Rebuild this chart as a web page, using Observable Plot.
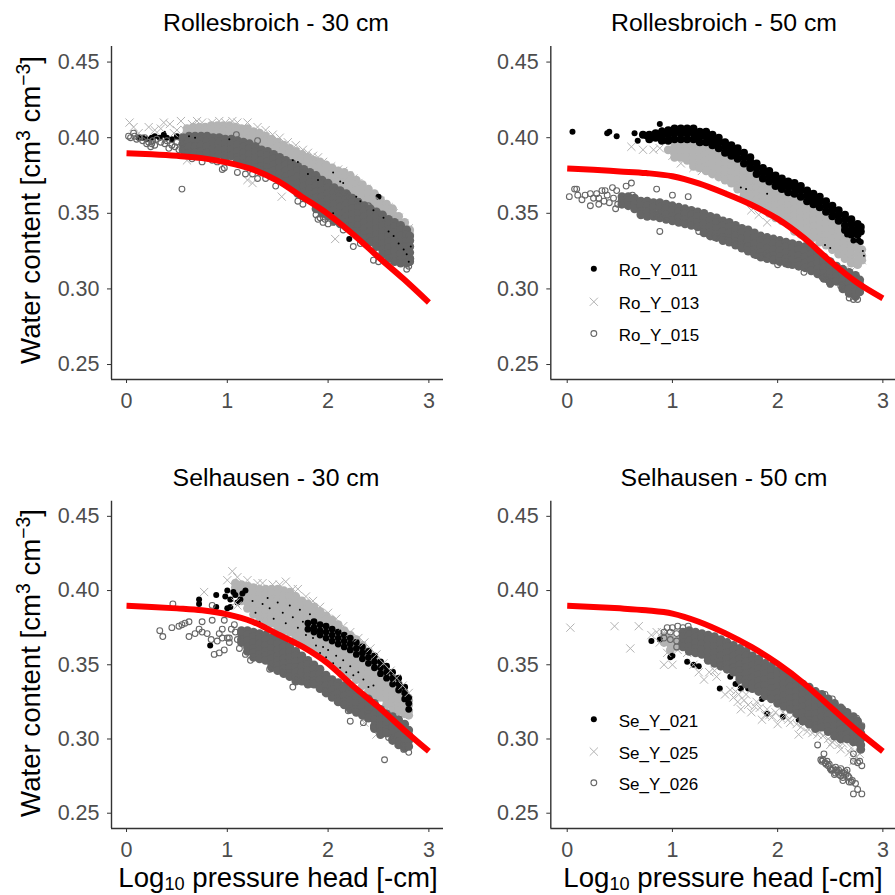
<!DOCTYPE html>
<html><head><meta charset="utf-8">
<script src="https://cdn.jsdelivr.net/npm/d3@7"></script>
<script src="https://cdn.jsdelivr.net/npm/@observablehq/plot@0.6"></script>
<style>
html,body{margin:0;padding:0;background:#fff}
#c{position:relative;width:895px;height:895px;overflow:hidden;font-family:"Liberation Sans",Arial,sans-serif;color:#000}
#c svg{position:absolute;overflow:visible}
.t{position:absolute;white-space:nowrap;transform:translate(-50%,-50%);font-size:24.8px;line-height:1}
.xl{position:absolute;white-space:nowrap;transform:translate(-50%,-50%);font-size:27.6px;line-height:1}
.yl{position:absolute;white-space:nowrap;transform:translate(-50%,-50%) rotate(-90deg);font-size:27.6px;line-height:1}
sup{font-size:70%;line-height:0}
sub{font-size:66%;line-height:0;vertical-align:-0.16em}
</style></head><body><div id="c"></div>
<script>
// Every series: rows of [log10 pressure head x100, water content x1000 ...].
// "Solid" = where the original points overlap so heavily that they merge into a solid band.
const ticksX=[0,1,2,3], ticksY=[0.25,0.30,0.35,0.40,0.45];
const curveX=[0,.25,.5,.75,1,1.25,1.5,1.75,2,2.25,2.5,2.75,3];
const ro30Curve=[.3897,.389,.388,.3865,.3835,.379,.3715,.3605,.3495,.336,.321,.3065,.291];
const ro50Curve=[.3797,.3788,.3777,.3766,.3745,.3698,.3632,.3557,.3463,.3337,.3183,.3044,.2938];
const se30Curve=[.3897,.389,.388,.3867,.384,.379,.3706,.362,.3508,.3355,.3215,.3063,.2917];
const se50Curve=[.3897,.389,.388,.3867,.3845,.379,.3713,.362,.3508,.3374,.3217,.306,.2917];

const ro30_015Solid=[[56,400,396,392],[62,401,398,394,390],[68,401,398,394,390],[74,401,398,395,391,388],[80,401,398,394,390],[86,400,397,393,389,387],[92,400,397,393,389],[98,399,396,392,388,386],[104,399,396,392,388],[110,398,395,391,387,385],[116,397,394,390,386,383],[122,396,393,389,385,382],[128,394,391,387,383,380],[134,392,389,385,381,378],[140,391,388,384,380,377],[146,389,386,382,378,375],[152,387,384,380,376,373],[158,385,382,378,374,371],[164,383,380,376,372,369],[170,381,378,374,370,366,363],[176,379,376,372,368,364,361],[182,377,374,370,366,362,359],[188,375,372,368,364,360,356,353],[194,372,369,365,361,357,353,350],[200,370,367,363,359,355,351,348],[206,367,364,360,356,352,348,345],[212,365,362,358,354,350,346,343],[218,363,360,356,352,348,344,341],[224,360,357,353,349,345,341,338],[230,357,354,350,346,342,338,336],[236,355,352,348,344,340,336,333],[242,353,350,346,342,338,334,331],[248,351,348,344,340,336,332,328],[254,349,346,342,338,334,330,326,323],[260,346,343,339,335,331,327,323,320],[266,344,341,337,333,329,325,321,318],[272,342,339,335,331,327,323,319,317],[278,339,336,332,328,324,320,317],[281,335,332,328,324,320,318]];
const ro30_015=[[2,401],[7,403],[8,401],[13,400],[22,397],[25,396],[30,399],[40,398],[45,395],[55,366],[109,402],[95,379],[97,380],[110,377],[118,376],[125,376],[130,373],[138,373],[148,368],[170,358],[175,356],[188,349],[192,347],[197,346],[205,344],[215,339],[225,328],[232,330],[245,319],[250,318],[260,318],[278,313],[280,315],[282,320],[210,365],[220,362],[230,358],[240,355],[190,373],[130,398],[55,396],[60,390],[90,384],[4,400],[10,399],[16,398],[20,396],[24,394],[28,395],[34,397],[38,396],[42,393],[48,394],[50,397],[52,392],[18,400],[26,398],[65,386],[75,384],[85,385],[190,346],[195,344],[200,343]];
const ro30_013Solid=[[60,406,404],[66,407,404],[72,407,404],[78,407,405],[84,408,405],[90,408,405,402],[96,408,405,401],[102,408,405,401],[108,407,404,400],[114,406,403,399],[120,406,403,399],[126,404,401,397],[132,403,400,396],[138,401,398,394],[144,399,396,392],[150,397,394,390],[156,395,392,388,385],[162,393,390,386,382],[168,391,388,384,380],[174,389,386,382,378],[180,387,384,380,376],[186,385,382,378,374],[192,384,381,377],[198,382,379,375,371],[204,380,377,373,369],[210,378,375,371,367],[216,377,374,370,366],[222,375,372,368,364],[228,372,369,365,361],[234,369,366,362,358],[240,366,363,359,355],[246,363,360,356,352],[252,359,356,352,348],[258,356,353,349,345],[264,353,350,346,342],[270,348,345,341,337],[276,344,341,337,333],[281,339,336,332,328]];
const ro30_013=[[3,410],[7,407],[22,407],[37,410],[43,409],[54,411],[50,405],[65,409],[75,410],[85,410],[98,410],[110,410],[120,410],[130,407],[145,402],[160,397],[175,392],[185,388],[195,384],[210,379],[220,375],[230,370],[245,362],[260,354],[270,347],[280,340],[120,372],[125,370],[154,361],[207,333],[60,385],[12,403],[28,405],[34,406],[47,403],[58,405],[70,411],[92,411],[105,411],[138,405],[152,400],[168,395],[180,390],[190,387],[203,381],[215,378],[225,373],[238,366],[252,358],[265,350],[275,343]];
const ro30_011=[[250,361],[221,333],[12,400],[16,400],[20,399],[25,400],[28,401],[33,400],[37,402],[40,400],[45,399],[50,401],[54,400]];
const ro30_011Specks=[[38,404],[62,401],[68,400],[102,399],[165,385],[170,384],[205,377],[212,371],[215,370],[228,361],[232,358],[245,352],[255,347],[260,338],[265,335],[270,330],[275,326],[278,323],[280,318],[282,328],[205,350],[215,342],[180,376],[190,372]];

const ro50_011Solid=[[72,402],[78,402,399],[84,403,400],[90,404,401,398],[96,405,402,398],[102,406,403,399],[108,406,403,399],[114,406,403,399],[120,406,403,399],[126,404,401,397],[132,404,401,397],[138,402,399,395],[144,400,397,393],[150,397,394,390],[156,395,392,388],[162,393,390,386],[168,390,387,383],[174,387,384,380],[180,383,380,376],[186,380,377,373],[192,378,375,371],[198,375,372,368],[204,373,370,366],[210,371,368,364],[216,370,367,363],[222,368,365,361],[228,365,362,358],[234,363,360,356],[240,361,358,354],[246,358,355,351],[252,355,352,348],[258,352,349,345],[264,349,346,342,339],[270,346,343,339,336],[276,343,340,336],[279,341,338]];
const ro50_011=[[5,404],[38,403],[40,404],[47,401],[64,403],[67,398],[75,401],[88,409],[90,405],[277,332],[279,331],[266,336],[272,332]];
const ro50_013Solid=[[96,392],[102,394,390,387],[108,395,391,387],[114,395,391,387,385],[120,395,391,387,383,381],[126,395,391,387,383,380],[132,393,389,385,381,378],[138,391,387,383,379,376],[144,389,385,381,377,374],[150,387,383,379,375,372],[156,385,381,377,373,370],[162,384,380,376,372,368,366],[168,381,377,373,369,365,362],[174,378,374,370,366,362,359],[180,375,371,367,363,359,356],[186,373,369,365,361,357,353],[192,370,366,362,358,354,350],[198,367,363,359,355,351,347],[204,365,361,357,353,349,345],[210,363,359,355,351,347,343],[216,361,357,353,349,345,341,338],[222,359,355,351,347,343,339,336],[228,356,352,348,344,340,336,333],[234,353,349,345,341,337,334],[240,350,346,342,338,334,331],[246,347,343,339,335,331,329],[252,345,341,337,333,329,326],[258,342,338,334,330,326,323],[264,339,335,331,327,323,320],[270,335,331,327,323,319,317],[276,331,327,323,319,316],[280,326,322,319]];
const ro50_013=[[61,394],[72,392],[82,392],[88,393],[100,388],[108,383],[120,380],[128,378],[175,352],[182,349],[190,344],[240,330],[255,326],[270,312],[280,319]];
const ro50_015Solid=[[52,361,358,356],[58,361,358,355],[64,360,356,353],[70,358,355,351,349],[76,358,355,351,348],[82,357,354,350,348],[88,357,354,350,347],[94,356,353,349,346],[100,355,352,348,345],[106,354,351,347,344],[112,353,350,346,343],[118,352,349,345,342],[124,351,348,344,341],[130,350,347,343,339,337],[136,348,345,341,337,335],[142,347,344,340,336,334],[148,345,342,338,334,332],[154,344,341,337,333,331],[160,342,339,335,331,329],[166,340,337,333,329,327],[172,339,336,332,328,325],[178,337,334,330,326,323],[184,335,332,328,324,321],[190,334,331,327,323,320],[196,333,330,326,322,319],[202,332,329,325,321,318],[208,331,328,324,320,317],[214,330,327,323,319,316],[220,329,326,322,318,315],[226,328,325,321,317,314],[232,326,323,319,315,312],[238,324,321,317,313,310],[244,321,318,314,310,307],[250,318,315,311,307,304],[256,315,312,308,305],[262,313,310,306,302,300],[268,311,308,304,300,297],[274,309,306,302,298,295],[278,306,303,298]];
const ro50_015=[[2,361],[7,366],[9,366],[10,362],[14,359],[17,362],[22,363],[22,355],[30,360],[33,365],[35,358],[43,367],[47,365],[56,368],[61,370],[62,362],[85,366],[100,362],[115,361],[88,338],[180,322],[190,322],[200,316],[210,316],[225,311],[242,308],[247,306],[250,303],[260,302],[85,349],[95,346],[110,344],[125,338],[140,334],[160,329],[25,360],[28,363],[38,362],[40,357],[44,360],[48,356],[36,365],[30,356],[46,353],[268,294],[272,293],[276,293]];
const ro50_011Specks=[[190,363],[205,344],[212,340],[230,330],[235,327],[165,367],[170,366],[282,322],[281,325],[245,329],[250,327]];

const se30_013Solid=[[108,405,402,398],[114,404,401,397,393],[120,403,400,396,392,388],[126,402,399,395,391,387,384],[132,401,398,394,390,386,382],[138,401,398,394,390,386,382,379],[144,401,398,394,390,386,382,378],[150,401,398,394,390,386,382,378,375],[156,400,397,393,389,385,381,377,373],[162,399,396,392,388,384,380,376,372],[168,396,393,389,385,381,377,373,369],[174,393,390,386,382,378,374,370,366],[180,391,388,384,380,376,372,368,364],[186,389,386,382,378,374,370,366,362],[192,386,383,379,375,371,367,363,359],[198,383,380,376,372,368,364,360,356],[204,380,377,373,369,365,361,357,353],[210,377,374,370,366,362,358,354,350],[216,373,370,366,362,358,354,350,346],[222,370,367,363,359,355,351,347,343],[228,367,364,360,356,352,348,344,340],[234,363,360,356,352,348,344,340,336],[240,359,356,352,348,344,340,336,332],[246,355,352,348,344,340,336,332,328],[252,351,348,344,340,336,332,328],[258,345,342,338,334,330,326,323],[264,341,338,334,330,326,322,319],[270,337,334,330,326,322,319],[276,331,328,324,320,317],[280,326,323,319,316]];
const se30_013=[[77,399],[105,413],[100,407],[110,409],[120,407],[130,405],[145,404],[158,406],[170,401],[185,393],[200,385],[215,376],[230,368],[242,361],[255,351],[268,341],[280,331],[248,303],[236,311],[108,392],[110,390],[135,405],[152,404],[165,401],[178,396],[192,389],[208,381],[222,372],[236,365],[248,357],[262,346],[274,336]];
const se30_011Solid=[[180,378,374],[186,379,375,372],[192,377,373,370],[198,376,372,368],[204,374,370,366],[210,372,368,364],[216,370,366,362],[222,368,364,360],[228,365,361,357],[234,362,358,354],[240,359,355,351],[246,356,352,348],[252,352,348,344],[258,349,345,341],[264,345,341,337],[270,341,337,333],[276,335,331,327],[280,328,324,320]];
const se30_011=[[72,394],[72,391],[89,397],[89,389],[83,363],[98,396],[100,400],[103,394],[108,397],[110,392],[103,389],[115,398],[106,399],[113,394],[118,400],[100,388]];
const se30_011Specks=[[125,393],[128,385],[135,391],[140,395],[142,388],[146,381],[150,392],[155,385],[158,378],[162,390],[165,382],[170,375],[172,387],[175,379],[178,370],[182,384],[185,368],[188,363],[192,358],[195,362],[198,355],[200,360],[205,351],[208,356],[212,348],[215,353],[218,345],[222,349],[225,343],[230,345],[235,340],[240,335],[245,336],[132,379],[148,372]];
const se30_015Solid=[[114,373,371,367,365],[120,373,370,366,362,359],[126,372,369,365,361,358,355],[132,371,368,364,360,357,354],[138,370,367,363,359,356,353],[144,368,365,361,357,354,350,348],[150,367,364,360,356,353,349,346],[156,365,362,358,354,351,347,344],[162,362,359,355,351,348,344,342],[168,359,356,352,348,345,341,339],[174,356,353,349,345,342,339],[180,353,350,346,342,339,337],[186,350,347,343,339,337],[192,347,344,340,336,334],[198,343,340,336,332,331],[204,340,337,333,329,328],[210,338,335,331,327,325],[216,336,333,329,325,323],[222,333,330,326,322,320],[228,331,328,324,320,318],[234,329,326,322,318,316],[240,327,324,320,316,314],[246,324,321,317,313,309,307],[252,320,317,313,309,305,303],[258,317,314,310,306,304],[264,315,312,308,304,300,299],[270,313,310,306,302,298,296],[276,310,307,303,299,295,294],[280,306,303,299,295]];
const se30_015=[[33,373],[36,369],[45,375],[46,391],[52,376],[55,377],[58,378],[62,379],[62,369],[68,371],[72,374],[75,379],[75,372],[80,371],[85,380],[84,367],[87,357],[92,358],[97,360],[95,368],[100,368],[90,366],[165,335],[142,347],[155,345],[170,340],[180,337],[200,331],[220,319],[222,312],[235,311],[245,308],[256,286],[280,291],[275,293],[270,297],[265,299],[260,301],[97,380],[85,390],[104,374],[108,372],[102,368],[107,377],[110,367],[112,361],[118,357],[123,353],[95,374],[92,371],[102,365]];

const se50_015Solid=[[110,372,369,365,362],[116,373,370,366,362,359],[122,372,369,365,361,358],[128,371,368,364,360,357],[134,370,367,363,359,355,353],[140,369,366,362,358,354,351],[146,367,364,360,356,352,349],[152,365,362,358,354,350,347],[158,363,360,356,352,348,345],[164,361,358,354,350,346,342,340],[170,359,356,352,348,344,340,337],[176,356,353,349,345,341,337,334],[182,354,351,347,343,339,335,332],[188,351,348,344,340,336,332,329],[194,349,346,342,338,334,330,327],[200,346,343,339,335,331,327,324],[206,344,341,337,333,329,325,322],[212,342,339,335,331,327,323,320],[218,339,336,332,328,324,320,317],[224,337,334,330,326,322,318,314,312],[230,335,332,328,324,320,316,312,310],[236,332,329,325,321,317,313,309,307],[242,330,327,323,319,315,311,308],[248,327,324,320,316,312,308,305],[254,324,321,317,313,309,305,302],[260,321,318,314,310,306,302,300],[266,318,315,311,307,303,300],[272,315,312,308,304,300,298],[276,312,309,305,301,298],[279,308,304,300,296,293]];
const se50_015=[[92,372],[92,368],[95,375],[98,372],[98,367],[100,375],[104,371],[104,366],[104,362],[105,376],[110,375],[115,376],[235,332],[245,330],[252,327],[262,320],[275,314],[280,309],[145,350],[165,338],[230,310],[238,296],[244,290],[242,285],[245,284],[248,282],[250,280],[255,281],[260,280],[255,277],[260,275],[265,276],[262,272],[270,271],[268,274],[266,279],[252,279],[257,278],[263,277],[272,263],[276,266],[280,263],[272,285],[276,284],[280,282],[278,285],[272,290],[243,286],[246,283],[249,283],[251,279],[253,280],[256,279],[258,279],[258,276],[261,277],[264,278],[267,275],[268,271],[271,272],[274,270],[262,274],[254,276],[247,285],[241,286]];
const se50_013Solid=[[92,369,365],[98,368,364,360],[104,366,362]];
const se50_013=[[3,375],[45,376],[68,376],[60,361],[80,370],[88,365],[92,350],[95,358],[100,350],[90,372],[96,370],[102,366],[108,362],[114,358],[130,340],[135,345],[142,342],[150,330],[160,332],[162,325],[165,320],[170,330],[175,318],[180,325],[185,313],[190,320],[195,315],[200,310],[205,318],[210,313],[215,316],[220,303],[225,312],[230,308],[240,305],[250,296],[255,300],[260,293],[270,294],[272,285],[278,290],[155,333],[158,328],[163,330],[168,326],[172,323],[178,322],[183,321],[188,316],[192,316],[198,318],[203,314],[208,316],[212,311],[218,310],[222,308],[228,305],[233,304],[238,303],[243,302],[248,300],[252,298],[258,296],[262,297],[268,291],[275,288],[120,350],[125,345],[140,346],[100,366],[105,360],[85,372]];
const se50_011=[[80,366],[88,367],[98,355],[100,356],[114,352],[120,350],[125,349],[145,334],[155,342],[160,337],[165,334],[172,334],[185,327],[190,317],[200,344],[210,341],[220,338],[205,315],[215,320],[220,313],[230,318]];

const cols=rows=>rows.flatMap(([x,...ys])=>ys.map(y=>({x:x/100,y:y/1000})));
const legendX=[.253,.253,.253], legendY=[.3133,.2915,.2705], legendTextX=[.49,.49,.49];

const c=document.getElementById("c");
function panel(o){
  const curve=curveX.map((x,i)=>({x,y:o.curve[i]}));
  const W="#666",G="#b3b3b3",A="#333";
  const marks=[
    Plot.ruleX([o.xd[0]],{stroke:A,strokeWidth:1.4}),
    Plot.ruleY([o.yd[0]],{stroke:A,strokeWidth:1.4}),
    Plot.axisX({ticks:ticksX,tickFormat:d3.format("d"),label:null,tickSize:4,tickPadding:9,fontSize:21.5,fill:"#4d4d4d",stroke:A}),
    Plot.axisY({ticks:ticksY,tickFormat:d3.format(".2f"),label:null,tickSize:4,tickPadding:8,fontSize:21.5,fill:"#4d4d4d",stroke:A})
  ];
  if(o.xSolid) marks.push(Plot.dot(cols(o.xSolid),{x:"x",y:"y",r:4.4,fill:G,stroke:"none"}));
  if(o.bSolid) marks.push(Plot.dot(cols(o.bSolid),{x:"x",y:"y",r:o.bR,fill:"#000",stroke:"none"}));
  marks.push(Plot.dot(cols(o.b),{x:"x",y:"y",r:3,fill:"#000",stroke:"none"}));
  marks.push(Plot.dot(cols(o.xs),{x:"x",y:"y",r:3.8,symbol:"times",stroke:G,strokeWidth:1,fill:"none"}));
  marks.push(Plot.dot(cols(o.oSolid),{x:"x",y:"y",r:4.4,fill:W,stroke:"none"}));
  marks.push(Plot.dot(cols(o.os),{x:"x",y:"y",r:2.9,stroke:W,strokeWidth:1.1,fill:"none"}));
  if(o.specks) marks.push(Plot.dot(cols(o.specks),{x:"x",y:"y",r:1,fill:"#000",stroke:"none"}));
  marks.push(Plot.line(curve,{x:"x",y:"y",stroke:"#f00",strokeWidth:6,curve:"monotone-x",strokeLinecap:"butt"}));
  if(o.legend){
    const L=legendX.map((x,i)=>({x,y:legendY[i],tx:legendTextX[i],label:o.legend[i]}));
    marks.push(Plot.dot([L[0]],{x:"x",y:"y",r:3,fill:"#000",stroke:"none"}));
    marks.push(Plot.dot([L[1]],{x:"x",y:"y",r:3.8,symbol:"times",stroke:G,strokeWidth:1,fill:"none"}));
    marks.push(Plot.dot([L[2]],{x:"x",y:"y",r:2.9,stroke:W,strokeWidth:1.1,fill:"none"}));
    marks.push(Plot.text(L,{x:"tx",y:"y",dy:2,text:"label",textAnchor:"start",fontSize:17,fill:"#000"}));
  }
  const p=Plot.plot({width:o.w,height:o.h,marginLeft:o.ml,marginRight:o.mr,marginTop:o.mt,marginBottom:o.mb,
    x:{domain:o.xd,axis:null},y:{domain:o.yd,axis:null},
    style:{fontFamily:"'Liberation Sans',Arial,sans-serif",background:"transparent",overflow:"visible"},marks});
  p.style.left=o.l+"px";p.style.top=o.t+"px";
  c.appendChild(p);
  const add=(cls,html,x,y)=>{const d=document.createElement("div");d.className=cls;d.innerHTML=html;d.style.left=x+"px";d.style.top=y+"px";c.appendChild(d);};
  add("t",o.title,o.tx,o.ty);
  if(o.yLab) add("yl","Water content [cm<sup>3</sup> cm<sup>−3</sup>]",31,o.yLab);
  if(o.xLab) add("xl","Log<sub>10</sub> pressure head [-cm]",o.xLab,878);
}
const base1={w:448,h:420,ml:111,mr:5,mt:46,mb:41,xd:[-.149,3.145],yd:[.2401,.4603]};
const base2={w:447,h:420,ml:102.3,mr:0,mt:46,mb:41,xd:[-.156,3.12],yd:[.2401,.4603]};
const base3={w:448,h:420,ml:111,mr:5,mt:50.7,mb:42,xd:[-.149,3.145],yd:[.2397,.4602]};
const base4={w:447,h:420,ml:102.3,mr:0,mt:50.7,mb:42,xd:[-.156,3.12],yd:[.2397,.4602]};
panel({...base1,l:0,t:0,curve:ro30Curve,xSolid:ro30_013Solid,xs:ro30_013,b:ro30_011,oSolid:ro30_015Solid,os:ro30_015,specks:ro30_011Specks,title:"Rollesbroich - 30 cm",tx:276,ty:23,yLab:210});
panel({...base2,l:448,t:0,curve:ro50Curve,xSolid:ro50_013Solid,bSolid:ro50_011Solid,bR:4,xs:ro50_013,b:ro50_011,oSolid:ro50_015Solid,os:ro50_015,specks:ro50_011Specks,legend:["Ro_Y_011","Ro_Y_013","Ro_Y_015"],title:"Rollesbroich - 50 cm",tx:724,ty:23});
panel({...base3,l:0,t:450,curve:se30Curve,xSolid:se30_013Solid,bSolid:se30_011Solid,bR:3.4,xs:se30_013,b:se30_011,oSolid:se30_015Solid,os:se30_015,specks:se30_011Specks,title:"Selhausen - 30 cm",tx:276,ty:478,yLab:663,xLab:278});
panel({...base4,l:448,t:450,curve:se50Curve,xSolid:se50_013Solid,xs:se50_013,b:se50_011,oSolid:se50_015Solid,os:se50_015,legend:["Se_Y_021","Se_Y_025","Se_Y_026"],title:"Selhausen - 50 cm",tx:724,ty:478,xLab:723});
</script></body></html>
